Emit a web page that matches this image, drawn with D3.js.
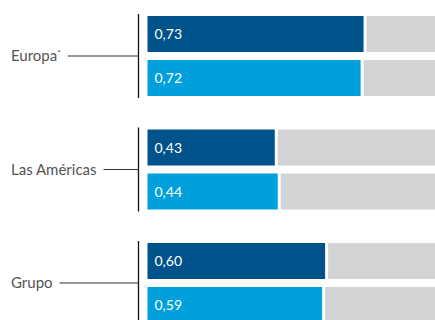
<!DOCTYPE html>
<html>
<head>
<meta charset="utf-8">
<script src="https://cdn.jsdelivr.net/npm/d3@7"></script>
<style>
  body { margin: 0; background: #fff; }
  svg { display: block; font-family: Lato, "Open Sans", sans-serif; }
</style>
</head>
<body>
<svg id="chart" width="435" height="320"></svg>
<script>
const groups = ['Europa', 'Las Américas', 'Grupo'];
const marks = ['*', '', ''];
const series = ['dark', 'light'];
const darkValues = [0.73, 0.43, 0.60];
const lightValues = [0.72, 0.44, 0.59];
const colors = { dark: '#00538a', light: '#00a0dc' };

const svg = d3.select('#chart');

const y0 = d3.scaleBand()
    .domain(groups)
    .range([16, 16 + 3 * 113.5 - 33.5])
    .paddingInner(33.5 / 113.5);

const y1 = d3.scaleBand()
    .domain(series)
    .range([0, y0.bandwidth()])
    .paddingInner(8 / 44);

const x = d3.scaleLinear().domain([0, 1]).range([147.5, 443.5]);

const rows = [];
groups.forEach((g, i) => {
    rows.push({ group: g, key: 'dark', value: darkValues[i] });
    rows.push({ group: g, key: 'light', value: lightValues[i] });
});

const fmt = v => d3.format('.2f')(v).replace('.', ',');

// grey remainder up to 1
svg.selectAll('rect.rest')
    .data(rows)
    .enter()
    .append('rect')
    .attr('class', 'rest')
    .attr('x', d => x(d.value) + 3)
    .attr('y', d => y0(d.group) + y1(d.key))
    .attr('width', d => x(1) - x(d.value) - 3)
    .attr('height', y1.bandwidth())
    .attr('fill', '#d2d3d5');

svg.selectAll('rect.bar')
    .data(rows)
    .enter()
    .append('rect')
    .attr('class', 'bar')
    .attr('x', x(0))
    .attr('y', d => y0(d.group) + y1(d.key))
    .attr('width', d => x(d.value) - x(0))
    .attr('height', y1.bandwidth())
    .attr('fill', d => colors[d.key]);

svg.selectAll('text.val')
    .data(rows)
    .enter()
    .append('text')
    .attr('class', 'val')
    .attr('x', x(0) + 7)
    .attr('y', d => y0(d.group) + y1(d.key) + y1.bandwidth() / 2)
    .attr('dy', '0.36em')
    .attr('fill', '#fff')
    .attr('font-size', 14)
    .text(d => fmt(d.value));

// group brackets and labels
groups.forEach((g, i) => {
    const top = y0(g), mid = top + y0.bandwidth() / 2;
    svg.append('line')
        .attr('x1', 138.5).attr('x2', 138.5)
        .attr('y1', top - 2).attr('y2', top + y0.bandwidth() + 2)
        .attr('stroke', '#111').attr('stroke-width', 1.3);

    const label = svg.append('text')
        .attr('x', 11)
        .attr('y', mid)
        .attr('dy', '0.36em')
        .attr('fill', '#555')
        .attr('font-size', 15);
    label.append('tspan').text(g);
    if (marks[i]) {
        label.append('tspan')
            .attr('font-size', 8)
            .attr('dy', '-0.7em')
            .text(marks[i]);
    }
    const end = 11 + label.node().getComputedTextLength();
    svg.append('line')
        .attr('x1', end + 7).attr('x2', 138.5)
        .attr('y1', mid).attr('y2', mid)
        .attr('stroke', '#333').attr('stroke-width', 1.2);
});
</script>
</body>
</html>
